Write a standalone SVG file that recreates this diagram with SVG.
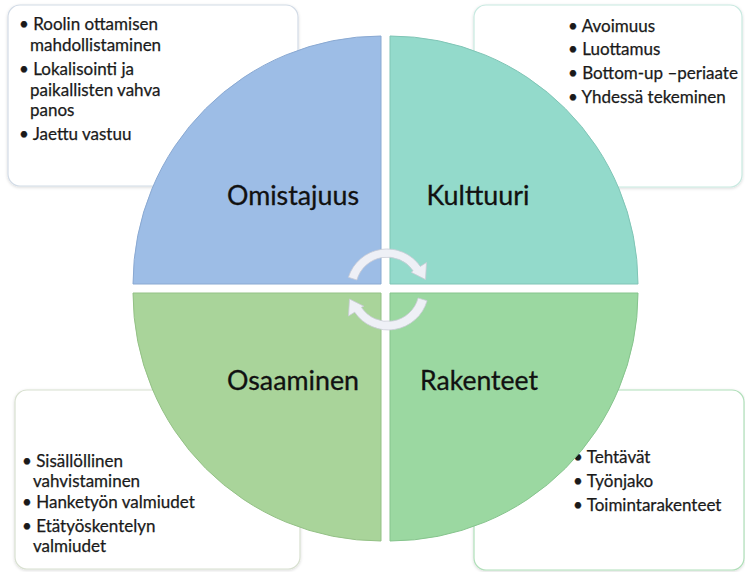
<svg xmlns="http://www.w3.org/2000/svg" width="745" height="572" viewBox="0 0 745 572">
  <style>
    .box { fill: #ffffff; stroke-width: 1.2; }
    .item { font-family: Lato, "Open Sans", "Liberation Sans", sans-serif; font-size: 17px; fill: #1a1a1a; stroke: #1a1a1a; stroke-width: 0.25; }
    .title { font-family: Lato, "Open Sans", "Liberation Sans", sans-serif; font-size: 26px; fill: #111111; stroke: #111111; stroke-width: 0.3; }
    .quad { stroke-width: 1; }
    .cyc { fill: #eef0f6; stroke: #c9ccd6; stroke-width: 0.8; }
  </style>
  <defs>
    <filter id="soft" x="-10%" y="-10%" width="120%" height="120%">
      <feDropShadow dx="0" dy="1" stdDeviation="1.5" flood-color="#000000" flood-opacity="0.15"/>
    </filter>
  </defs>

  <!-- text panels, sitting behind the circle -->
  <g id="panel-omistajuus">
    <rect class="box" x="8" y="5" width="290" height="181" rx="12" stroke="#d2dbe6" filter="url(#soft)"/>
    <text class="item" x="19" y="30">• Roolin ottamisen</text>
    <text class="item" x="30" y="51">mahdollistaminen</text>
    <text class="item" x="19" y="75">• Lokalisointi ja</text>
    <text class="item" x="30" y="96">paikallisten vahva</text>
    <text class="item" x="30" y="116">panos</text>
    <text class="item" x="19" y="140">• Jaettu vastuu</text>
  </g>
  <g id="panel-kulttuuri">
    <rect class="box" x="474" y="5" width="268" height="182" rx="12" stroke="#c8e9e0" filter="url(#soft)"/>
    <text class="item" x="568" y="32">• Avoimuus</text>
    <text class="item" x="568" y="55">• Luottamus</text>
    <text class="item" x="568" y="79">• Bottom-up –periaate</text>
    <text class="item" x="568" y="103">• Yhdessä tekeminen</text>
  </g>
  <g id="panel-osaaminen">
    <rect class="box" x="15" y="390" width="285" height="179" rx="12" stroke="#d8e0d0" filter="url(#soft)"/>
    <text class="item" x="22" y="467">• Sisällöllinen</text>
    <text class="item" x="33" y="487">vahvistaminen</text>
    <text class="item" x="22" y="508">• Hanketyön valmiudet</text>
    <text class="item" x="22" y="532">• Etätyöskentelyn</text>
    <text class="item" x="33" y="552">valmiudet</text>
  </g>
  <g id="panel-rakenteet">
    <rect class="box" x="474" y="390" width="270" height="180" rx="12" stroke="#b0dfb9" filter="url(#soft)"/>
    <text class="item" x="573" y="463">• Tehtävät</text>
    <text class="item" x="573" y="487">• Työnjako</text>
    <text class="item" x="573" y="511">• Toimintarakenteet</text>
  </g>

  <!-- four quarter segments of the circle -->
  <g id="quad-omistajuus">
    <path class="quad" d="M381,284 L133,284 A248,248 0 0 1 381,36 Z" fill="#9dbde6" stroke="#8aa9d2"/>
    <text class="title" x="293" y="205" text-anchor="middle" textLength="132" lengthAdjust="spacingAndGlyphs">Omistajuus</text>
  </g>
  <g id="quad-kulttuuri">
    <path class="quad" d="M390,284 L390,36 A248,248 0 0 1 638,284 Z" fill="#93dacb" stroke="#80c5b6"/>
    <text class="title" x="478" y="205" text-anchor="middle" textLength="103" lengthAdjust="spacingAndGlyphs">Kulttuuri</text>
  </g>
  <g id="quad-osaaminen">
    <path class="quad" d="M381,293 L381,541 A248,248 0 0 1 133,293 Z" fill="#a9d49a" stroke="#94c186"/>
    <text class="title" x="293" y="390" text-anchor="middle" textLength="132" lengthAdjust="spacingAndGlyphs">Osaaminen</text>
  </g>
  <g id="quad-rakenteet">
    <path class="quad" d="M390,293 L638,293 A248,248 0 0 1 390,541 Z" fill="#9bd8a1" stroke="#86c48d"/>
    <text class="title" x="479" y="390" text-anchor="middle" textLength="118" lengthAdjust="spacingAndGlyphs">Rakenteet</text>
  </g>

  <!-- cycle arrows in the centre -->
  <g id="connectors">
    <!-- upper arc, clockwise, head on the right -->
    <path class="cyc" d="M348.4,277.3 A40.5,40.5 0 0 1 420.3,266.4 L426.5,262.5 L425.5,279.5 L411.2,272.3 L413.1,270.7 A31.5,31.5 0 0 0 356.9,280.0 Z"/>
    <!-- lower arc, clockwise, head on the left -->
    <path class="cyc" d="M427.1,300.7 A40.5,40.5 0 0 1 354.7,312.2 L348.5,316.0 L349.5,299.0 L363.8,306.2 L361.4,307.3 A31.5,31.5 0 0 0 418.1,298.0 Z"/>
  </g>
</svg>
